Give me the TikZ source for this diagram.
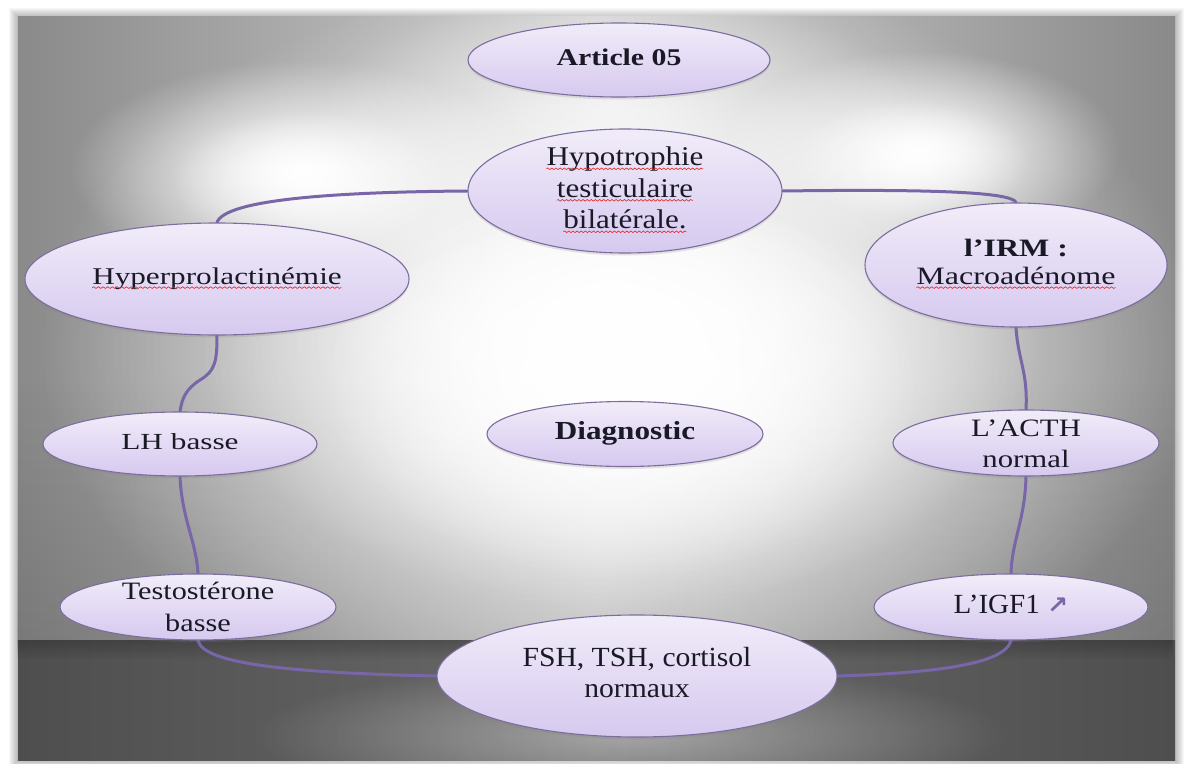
\documentclass[tikz,border=0pt]{standalone}
\usepackage{fontspec}
\setmainfont{Liberation Serif}
\newfontfamily\arrfont{DejaVu Sans}
\usetikzlibrary{shapes.geometric,fadings,shadows,decorations.pathmorphing}

\definecolor{lavtop}{HTML}{F1ECF9}
\definecolor{lavbot}{HTML}{D6C9EF}
\definecolor{lavrim}{HTML}{7D6D9E}
\definecolor{linkc}{HTML}{7866A8}
\definecolor{inkc}{HTML}{1A1A26}
\definecolor{squigred}{HTML}{E02A2A}
\definecolor{wallside}{HTML}{8A8A8A}
\definecolor{wallmid}{HTML}{D0D0D0}
\definecolor{floorside}{HTML}{4E4E4E}
\definecolor{floormid}{HTML}{6A6A6A}

% red wavy underline (spell-check style)
\newcommand\squig[1]{\tikz[x=1bp,y=1bp,baseline=(w.base)]{%
  \node[inner sep=0pt,outer sep=0pt] (w) {#1};
  \draw[squigred, line width=.6bp, decorate,
        decoration={snake, amplitude=.8bp, segment length=3.6bp}]
    ([yshift=-3bp]w.base west) -- ([yshift=-3bp]w.base east);}}

% #1 size, #2 leading, #3 horizontal stretch, #4 lines
\newcommand\ntext[4]{{\fontsize{#1bp}{#2bp}\selectfont\color{inkc}\scalebox{#3}[1]{\begin{tabular}{@{}c@{}}#4\end{tabular}}}}

% soft light spot fading out towards its rim
\tikzfading[name=glowfade, inner color=transparent!0, outer color=transparent!100]

\pgfdeclarelayer{bg}
\pgfdeclarelayer{links}
\pgfsetlayers{bg,links,main}

\begin{document}
\begin{tikzpicture}[x=1bp,y=-1bp,
  bub/.style={ellipse, draw=lavrim, line width=1.1bp, top color=lavtop, bottom color=lavbot,
    inner sep=0pt, drop shadow={shadow xshift=0bp, shadow yshift=-2.5bp, opacity=.2}},
  txtnode/.style={inner sep=0pt},
  link/.style={draw=linkc, line width=3bp, line cap=round},
  glow/.style={fill=white, path fading=glowfade, fit fading=true}]
\useasboundingbox (0,0) rectangle (1184,764);

\begin{pgfonlayer}{bg}
  \fill[white] (0,0) rectangle (1184,764);
  % blurred shadow around the panel
  \foreach \d in {1,...,9}
    \fill[black, opacity=0.03] (18-\d,17-\d) rectangle (1175+\d,760+\d);
  % back wall
  \shade[left color=wallside, right color=wallside, middle color=wallmid] (18,17) rectangle (1175,640);
  \fill[black, opacity=.12, path fading=north] (18,380) rectangle (1175,640);
  % spot lights on the wall
  \fill[glow] (620,350) ellipse [x radius=580, y radius=380];
  \fill[glow] (620,340) ellipse [x radius=420, y radius=270];
  \fill[glow] (620,380) ellipse [x radius=300, y radius=200];
  \fill[glow] (300,170) ellipse [x radius=230, y radius=110];
  \fill[glow, opacity=.8] (310,180) ellipse [x radius=140, y radius=70];
  \fill[glow] (920,150) ellipse [x radius=200, y radius=100];
  \fill[glow, opacity=.8] (910,160) ellipse [x radius=120, y radius=60];
  \fill[glow, opacity=.6] (620,110) ellipse [x radius=300, y radius=120];
  % floor
  \shade[left color=floorside, right color=floorside, middle color=floormid] (18,640) rectangle (1175,760);
  \fill[glow, opacity=.4] (630,735) ellipse [x radius=380, y radius=70];
  \fill[black, opacity=.2, path fading=south] (18,640) rectangle (1175,660);
\end{pgfonlayer}

% bubbles
\node[bub, minimum width=302bp, minimum height=74bp]  (art)  at (619,60)  {};
\node[bub, minimum width=314bp, minimum height=124bp] (hyp)  at (625,191) {};
\node[bub, minimum width=384bp, minimum height=112bp] (hpr)  at (217,279) {};
\node[bub, minimum width=302bp, minimum height=124bp] (irm)  at (1016,265) {};
\node[bub, minimum width=274bp, minimum height=64bp]  (lh)   at (180,444) {};
\node[bub, minimum width=276bp, minimum height=65bp]  (dia)  at (625,434) {};
\node[bub, minimum width=266bp, minimum height=66bp]  (acth) at (1026,443) {};
\node[bub, minimum width=276bp, minimum height=66bp]  (tes)  at (198,607) {};
\node[bub, minimum width=274bp, minimum height=66bp]  (igf)  at (1011,607) {};
\node[bub, minimum width=400bp, minimum height=122bp] (fsh)  at (637,676) {};

% texts
\node[txtnode] (art-t)  at (art)  {\ntext{24}{28}{1.24}{\bfseries Article 05}};
\node[txtnode] (hyp-t)  at (hyp)  {\ntext{27}{31.5}{1.15}{\squig{Hypotrophie}\\\squig{testiculaire}\\\squig{bilatérale.}}};
\node[txtnode] (hpr-t)  at (hpr)  {\ntext{24}{28}{1.30}{\squig{Hyperprolactinémie}}};
\node[txtnode] (irm-t)  at (irm)  {\ntext{25}{28}{1.28}{\bfseries l’IRM :\\\squig{Macroadénome}}};
\node[txtnode] (lh-t)   at (lh)   {\ntext{23}{28}{1.36}{LH basse}};
\node[txtnode] (dia-t)  at (dia)  {\ntext{26}{28}{1.20}{\bfseries Diagnostic}};
\node[txtnode] (acth-t) at ([yshift=-3bp]acth.center) {\ntext{25}{31}{1.23}{L’ACTH\\normal}};
\node[txtnode] (tes-t)  at ([yshift=-2bp]tes.center)  {\ntext{25}{32}{1.21}{Testostérone\\basse}};
\node[txtnode] (igf-t)  at (igf)  {\ntext{27.7}{31}{1.05}{L’IGF1 {\arrfont\bfseries\fontsize{24bp}{24bp}\selectfont\color{linkc}↗}}};
\node[txtnode] (fsh-t)  at (fsh)  {\ntext{27.7}{31}{1.07}{FSH, TSH, cortisol\\normaux}};

% connectors
\begin{pgfonlayer}{links}
  \draw[link] (hyp.west) .. controls (330,192) and (225,200) .. (hpr.north);
  \draw[link] (hyp.east) .. controls (930,189) and (1012,192) .. (irm.north);
  \draw[link] (hpr.south) .. controls (217,362) and (215,371) .. (200,380)
                          .. controls (186,389) and (182,398) .. (lh.north);
  \draw[link] (lh.south) .. controls (182,520) and (196,540) .. (tes.north);
  \draw[link] (irm.south) .. controls (1018,360) and (1028,372) .. (acth.north);
  \draw[link] (acth.south) .. controls (1025,520) and (1012,540) .. (igf.north);
  \draw[link] (tes.south) .. controls (203,665) and (300,673) .. (fsh.west);
  \draw[link] (igf.south) .. controls (1005,665) and (930,673) .. (fsh.east);
\end{pgfonlayer}
\end{tikzpicture}
\end{document}
